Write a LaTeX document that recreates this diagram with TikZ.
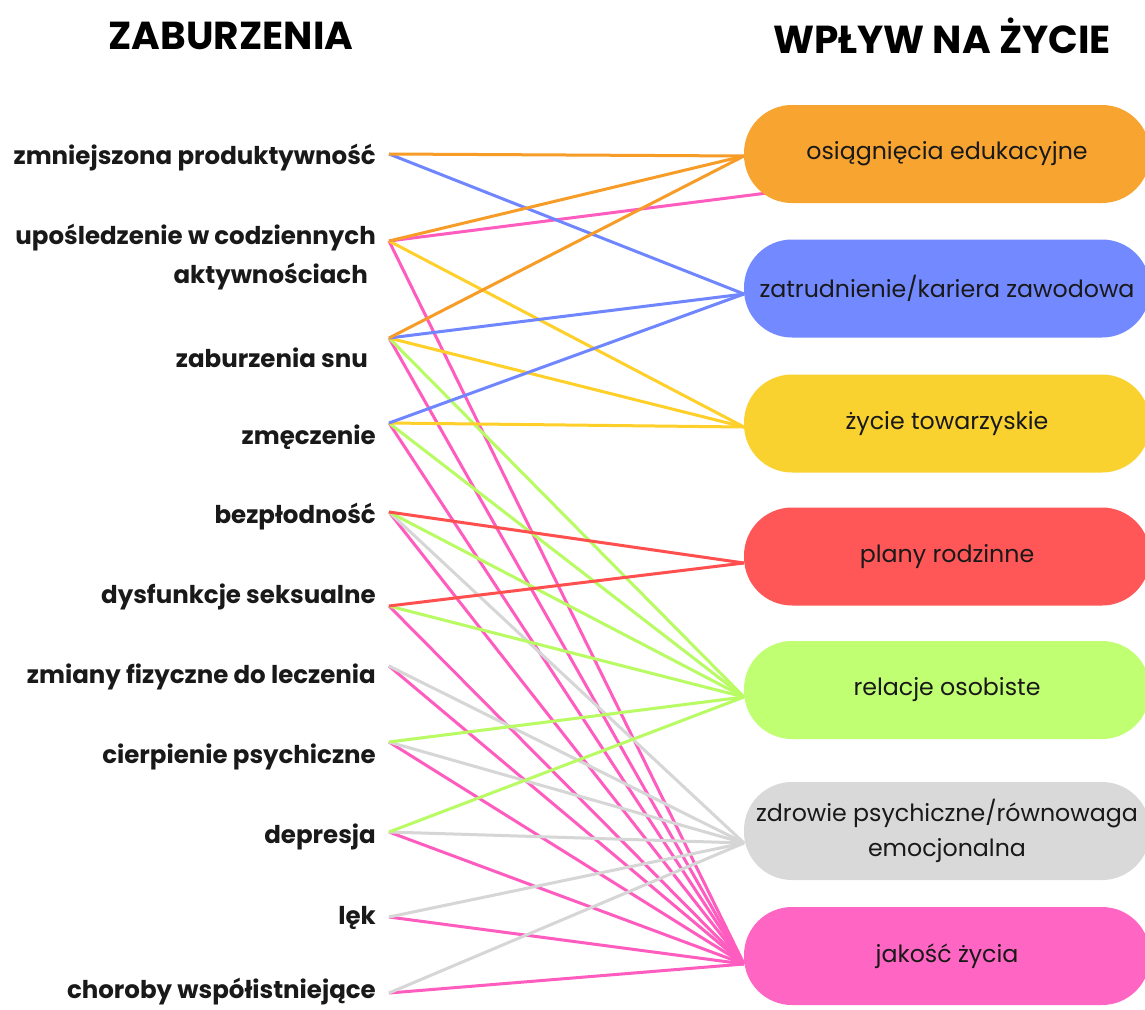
\documentclass[tikz,border=0pt]{standalone}
\usepackage{fontspec}
\setmainfont{Poppins}
\definecolor{cOr}{HTML}{F8A431}
\definecolor{cBl}{HTML}{7389FF}
\definecolor{cYe}{HTML}{F9D230}
\definecolor{cRe}{HTML}{FF5757}
\definecolor{cGr}{HTML}{C1FF72}
\definecolor{cGy}{HTML}{D9D9D9}
\definecolor{cPk}{HTML}{FF66C4}
\definecolor{lOr}{HTML}{F89C28}
\definecolor{lBl}{HTML}{6F86FF}
\definecolor{lYe}{HTML}{FFCF2A}
\definecolor{lRe}{HTML}{FF4F4F}
\definecolor{lGr}{HTML}{B8FB62}
\definecolor{lGy}{HTML}{D6D6D6}
\definecolor{lPk}{HTML}{FF5CC0}
\tikzset{
  head/.style={font=\fontsize{39}{42}\selectfont\bfseries, text=black},
  lab/.style={font=\fontsize{24.5}{39}\selectfont\bfseries, text=black!90, anchor=east, align=right, inner sep=0pt},
  pill/.style={rounded corners=48pt, minimum width=406pt, minimum height=98pt, inner sep=0pt,
    font=\fontsize{23.7}{35}\selectfont, text=black!90, align=center},
  con/.style={line width=3pt},
}
\begin{document}
\begin{tikzpicture}[x=1pt,y=-1pt]
\useasboundingbox (0,0) rectangle (1145,1009);
\fill[white] (0,0) rectangle (1145,1009);
% headings
\node[head] (h1) at (231,36) {ZABURZENIA};
\node[head] (h2) at (942,36) {WPŁYW NA ŻYCIE};
% left labels
\node[lab] (t1) at (376,158) {zmniejszona produktywność};
\node[lab] (t2) at (376,257) {upośledzenie w codziennych\\aktywnościach\hspace*{8pt}};
\node[lab] (t3) at (368,358) {zaburzenia snu};
\node[lab] (t4) at (376,437) {zmęczenie};
\node[lab] (t5) at (376,517) {bezpłodność};
\node[lab] (t6) at (376,597) {dysfunkcje seksualne};
\node[lab] (t7) at (376,677) {zmiany fizyczne do leczenia};
\node[lab] (t8) at (376,757) {cierpienie psychiczne};
\node[lab] (t9) at (376,837) {depresja};
\node[lab] (t10) at (376,918) {lęk};
\node[lab] (t11) at (376,992) {choroby współistniejące};
% left anchor points
\coordinate (l1) at (389,154);
\coordinate (l2) at (389,241);
\coordinate (l3) at (389,338);
\coordinate (l4) at (389,423);
\coordinate (l5) at (389,512);
\coordinate (l6) at (389,606);
\coordinate (l7) at (389,666);
\coordinate (l8) at (389,742);
\coordinate (l9) at (389,832);
\coordinate (l10) at (389,917);
\coordinate (l11) at (389,993);
% right anchor points
\coordinate (r1) at (744,156);
\coordinate (r1p) at (775,192);
\coordinate (r2) at (744,294);
\coordinate (r3) at (744,427);
\coordinate (r4) at (744,563);
\coordinate (r5) at (744,697);
\coordinate (r6) at (744,843);
\coordinate (r7) at (744,964);
% connectors
\draw[con,lPk] (l2) -- (r1p);
\foreach \s in {l2,l3,l4,l5,l6,l7,l8,l9,l10,l11} \draw[con,lPk] (\s) -- (r7);
\foreach \s in {l5,l7,l8,l9,l10,l11} \draw[con,lGy] (\s) -- (r6);
\foreach \s in {l3,l4,l5,l6,l8,l9} \draw[con,lGr] (\s) -- (r5);
\foreach \s in {l5,l6} \draw[con,lRe] (\s) -- (r4);
\foreach \s in {l2,l3,l4} \draw[con,lYe] (\s) -- (r3);
\foreach \s in {l1,l3,l4} \draw[con,lBl] (\s) -- (r2);
\foreach \s in {l1,l2,l3} \draw[con,lOr] (\s) -- (r1);
% boxes
\node[pill,fill=cOr] (b1) at (947,154) {osiągnięcia edukacyjne};
\node[pill,fill=cBl] (b2) at (947,288.5) {zatrudnienie/kariera zawodowa};
\node[pill,fill=cYe] (b3) at (947,423.5) {życie towarzyskie};
\node[pill,fill=cRe] (b4) at (947,556.5) {plany rodzinne};
\node[pill,fill=cGr] (b5) at (947,690) {relacje osobiste};
\node[pill,fill=cGy] (b6) at (947,831) {zdrowie psychiczne/równowaga\\emocjonalna};
\node[pill,fill=cPk] (b7) at (947,956) {jakość życia};
\end{tikzpicture}
\end{document}
